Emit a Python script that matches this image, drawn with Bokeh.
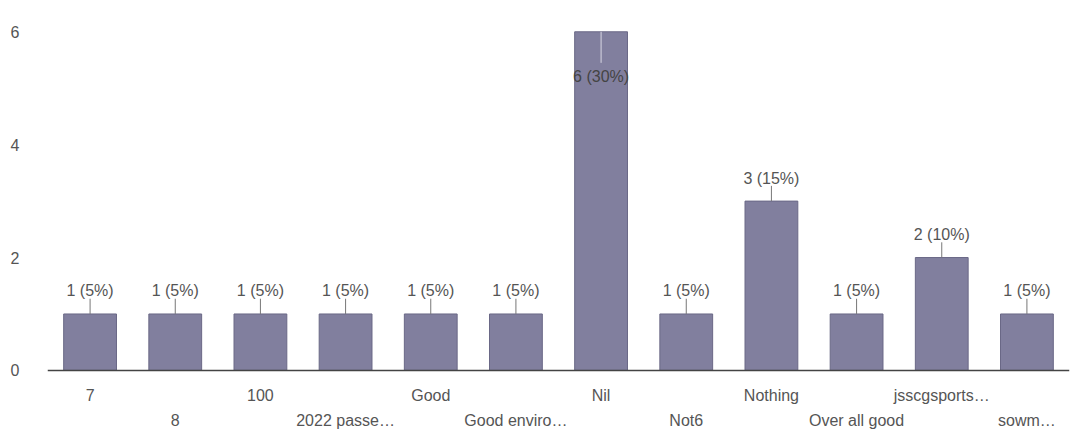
from bokeh.plotting import figure
from bokeh.models import ColumnDataSource, FixedTicker, Range1d, Span
from bokeh.core.properties import value
from bokeh.embed import file_html
from bokeh.resources import INLINE

categories = ["7", "8", "100", "2022 passe…", "Good", "Good enviro…", "Nil",
              "Not6", "Nothing", "Over all good", "jsscgsports…", "sowm…"]
counts = [1, 1, 1, 1, 1, 1, 6, 1, 3, 1, 2, 1]
total = 20
y_ticks = [0, 2, 4, 6]

FONT = "Liberation Sans"
TEXT = "#555555"
FS = "16px"
y_start, y_end = -1.1, 6.2

labels = [f"{c} ({round(100 * c / total)}%)" for c in counts]
inside = [c + 0.6 > y_end for c in counts]

src_out = ColumnDataSource(dict(
    x=[k for k, f in zip(categories, inside) if not f],
    y=[c for c, f in zip(counts, inside) if not f],
    y2=[c + 0.27 for c, f in zip(counts, inside) if not f],
    t=[t for t, f in zip(labels, inside) if not f],
))
src_in = ColumnDataSource(dict(
    x=[k for k, f in zip(categories, inside) if f],
    y=[c for c, f in zip(counts, inside) if f],
    y2=[c - 0.55 for c, f in zip(counts, inside) if f],
    t=[t for t, f in zip(labels, inside) if f],
))
src_row1 = ColumnDataSource(dict(x=categories[0::2], y=[0] * len(categories[0::2]), t=categories[0::2]))
src_row2 = ColumnDataSource(dict(x=categories[1::2], y=[0] * len(categories[1::2]), t=categories[1::2]))

p = figure(x_range=categories, y_range=Range1d(y_start, y_end), width=1070, height=432,
           output_backend="svg", toolbar_location=None, x_axis_location=None,
           min_border_left=47, min_border_right=1, min_border_top=20, min_border_bottom=0)
p.outline_line_color = None
p.xgrid.grid_line_color = None
p.ygrid.grid_line_color = None

p.vbar(x=categories, top=counts, width=0.62, fill_color="#817f9e",
       line_color="#6a6886", line_width=1)
p.add_layout(Span(location=0, dimension="width", line_color="#444444", line_width=1.5))

# leader lines and value labels
p.segment(x0="x", y0="y", x1="x", y1="y2", source=src_out, line_color="#777777", line_width=1)
p.text(x="x", y="y", text="t", source=src_out, y_offset=-23, text_align="center",
       text_baseline="middle", text_font=value(FONT), text_font_size=FS, text_color=TEXT)
p.segment(x0="x", y0="y", x1="x", y1="y2", source=src_in, line_color="#d8d8e4", line_width=1)
p.text(x="x", y="y", text="t", source=src_in, y_offset=45, text_align="center",
       text_baseline="middle", text_font=value(FONT), text_font_size=FS, text_color="#444444")

# staggered category labels
for src, off in ((src_row1, 25), (src_row2, 50)):
    p.text(x="x", y="y", text="t", source=src, y_offset=off, text_align="center",
           text_baseline="middle", text_font=value(FONT), text_font_size=FS, text_color=TEXT)

# y axis
p.yaxis.ticker = FixedTicker(ticks=y_ticks)
p.yaxis.axis_line_color = None
p.yaxis.major_tick_line_color = None
p.yaxis.minor_tick_line_color = None
p.yaxis.major_label_text_font = FONT
p.yaxis.major_label_text_font_size = FS
p.yaxis.major_label_text_color = TEXT
p.yaxis.major_label_standoff = 22

open("out.html", "w").write(file_html(p, INLINE))
